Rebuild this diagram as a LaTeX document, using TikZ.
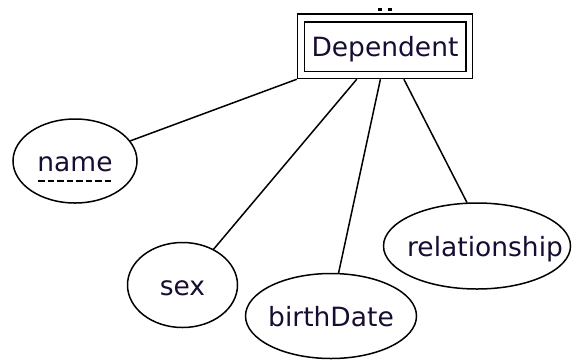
\documentclass[tikz,border=0pt]{standalone}
\usepackage{fontspec}
\setmainfont{DejaVu Sans}
\usetikzlibrary{shapes.geometric,calc}
\definecolor{ink}{RGB}{25,12,50}
\begin{document}
\begin{tikzpicture}[x=1pt,y=-1pt,
  every node/.style={inner sep=0pt},
  lbl/.style={font=\fontsize{26.5}{26.5}\selectfont,text=ink,text height=20pt,text depth=0pt},
  attr/.style={ellipse,draw,line width=1.5pt},
  entity/.style={rectangle,draw,line width=1.5pt,lbl},
  link/.style={line width=1.5pt},
  keyline/.style={line width=1.6pt,dash pattern=on 6.5pt off 3pt}]
\useasboundingbox (0,0) rectangle (572,360);
\fill[white] (0,0) rectangle (572,360);

% weak entity: double rectangle
\node[entity,minimum width=175pt,minimum height=64.5pt] (dep) at (385,46.25) {Dependent};
\draw[link] ($(dep.north west)+(7.5,8.5)$) rectangle ($(dep.south east)+(-7.5,-8)$);
\fill[black] (377.5,7.5) rectangle (381.5,10.5);
\fill[black] (387.5,7.5) rectangle (391.5,10.5);

% attributes
\node[attr,minimum width=124pt,minimum height=84pt] (name) at (75,161) {};
\node[lbl] (nameT) at (name.center) {name};
\draw[keyline] ($(name.center)+(-37,20)$) -- ++(76,0);

\node[attr,minimum width=110pt,minimum height=85pt] (sex) at (182.5,285) {};
\node[lbl] (sexT) at (sex.center) {sex};

\node[attr,minimum width=171pt,minimum height=85pt] (birth) at (331,316) {};
\node[lbl] (birthT) at (birth.center) {birthDate};

\node[attr,minimum width=187pt,minimum height=86pt] (rel) at (477,246) {};
\node[lbl] (relT) at ($(rel.center)+(8,0)$) {relationship};

% connection points along the bottom of the entity box
\coordinate (p1) at ($(dep.south west)!0.34!(dep.south east)$);
\coordinate (p2) at ($(dep.south west)!0.474!(dep.south east)$);
\coordinate (p3) at ($(dep.south west)!0.607!(dep.south east)$);

\draw[link] (name.20) -- (dep.south west);
\draw[link] (sex.49) -- (p1);
\draw[link] (birth.80) -- (p2);
\draw[link] (rel.103) -- (p3);
\end{tikzpicture}
\end{document}
